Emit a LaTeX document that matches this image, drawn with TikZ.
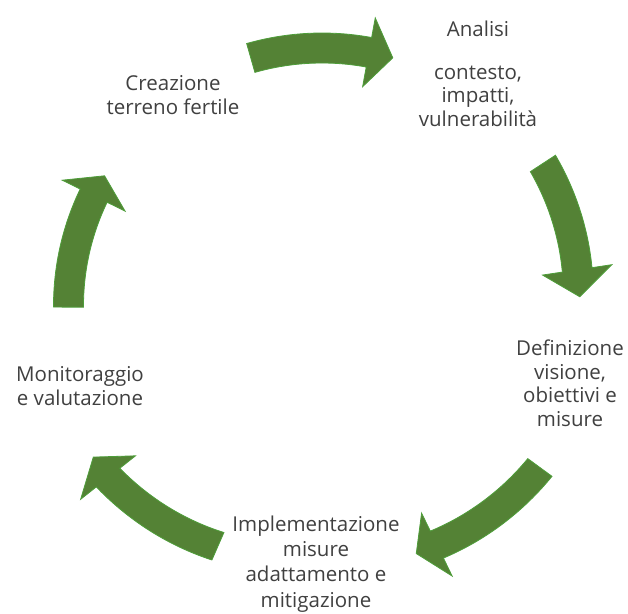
\documentclass[tikz,border=0pt]{standalone}
\usepackage{fontspec}
\setmainfont{Open Sans}
\definecolor{arrowfill}{HTML}{548235}
\definecolor{arrowedge}{HTML}{4E9E3A}
\definecolor{txt}{HTML}{404040}
\tikzset{
  cyclearrow/.style={fill=arrowfill, draw=arrowedge, line width=0.8pt, line join=miter},
  steplabel/.style={align=center, text=txt, inner sep=0pt, font=\fontsize{20.5}{23.5}\selectfont},
}
% #1 tail angle, #2 head-base angle, #3 tip angle, #4 tail radius, #5 head radius
\newcommand\cycarrow[5]{%
  \draw[cyclearrow]
    plot[domain=#1:#2, samples=40]
      ({((#4)+((#5)-(#4))*(\x-(#1))/((#2)-(#1))+15)*cos(\x)},
       {((#4)+((#5)-(#4))*(\x-(#1))/((#2)-(#1))+15)*sin(\x)})
    -- ({((#5)+35)*cos(#2)},{((#5)+35)*sin(#2)})
    -- ({(#5)*cos(#3)},{(#5)*sin(#3)})
    -- ({((#5)-35)*cos(#2)},{((#5)-35)*sin(#2)})
    -- plot[domain=#2:#1, samples=40]
      ({((#4)+((#5)-(#4))*(\x-(#1))/((#2)-(#1))-15)*cos(\x)},
       {((#4)+((#5)-(#4))*(\x-(#1))/((#2)-(#1))-15)*sin(\x)})
    -- cycle;}
\begin{document}
\begin{tikzpicture}[x=1pt, y=-1pt]
  \path[use as bounding box] (0,0) rectangle (628,613);
  \begin{scope}[shift={(322,308)}]
    \cycarrow{-105.9}{-79.6}{-74.2}{260}{260}
    \cycarrow{-33.2}{-8.5}{-2.5}{264}{258}
    \cycarrow{36.2}{64.1}{69}{270}{263}
    \cycarrow{113.6}{141.6}{146.9}{260}{273}
    \cycarrow{180.2}{206.2}{211.3}{253.5}{254.5}
  \end{scope}
  \node[steplabel] (analisi) at (478,74) {Analisi\\[19pt]contesto,\\impatti,\\vulnerabilità};
  \node[steplabel] (definizione) at (570,383) {Definizione\\visione,\\obiettivi e\\misure};
  \node[steplabel, font=\fontsize{20.5}{25.3}\selectfont] (implementazione) at (316,564) {Implementazione\\misure\\adattamento e\\mitigazione};
  \node[steplabel, font=\fontsize{20.5}{24.5}\selectfont] (monitoraggio) at (80,386) {Monitoraggio\\e valutazione};
  \node[steplabel, font=\fontsize{20.5}{24.5}\selectfont] (creazione) at (173,95) {Creazione\\terreno fertile};
\end{tikzpicture}
\end{document}
